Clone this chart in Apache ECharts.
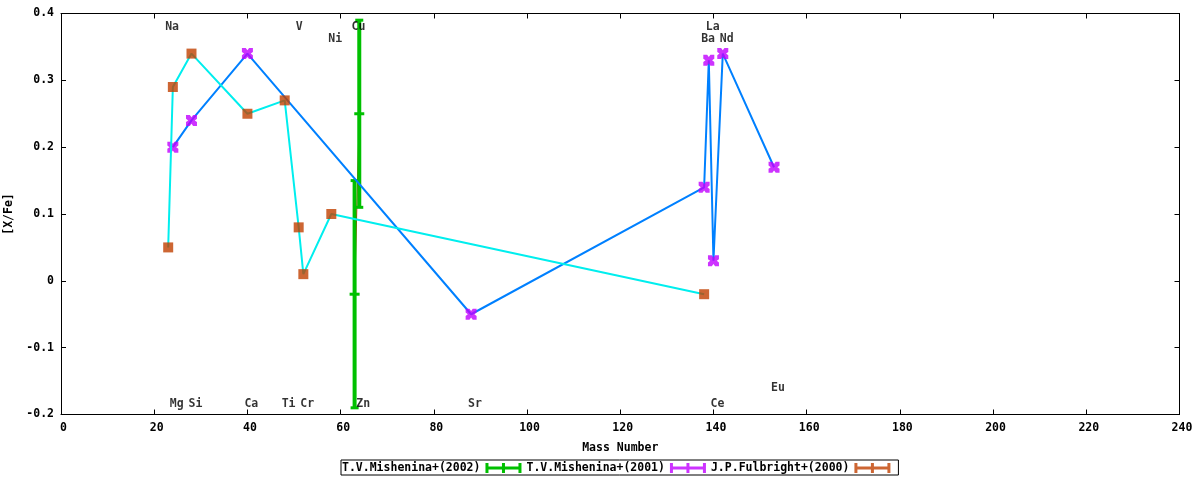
<!DOCTYPE html>
<html>
<head>
<meta charset="utf-8">
<script src="https://cdn.jsdelivr.net/npm/echarts@6/dist/echarts.min.js"></script>
<style>
  html, body { margin: 0; padding: 0; background: #fff; }
  #chart { width: 1200px; height: 480px; }
</style>
</head>
<body>
<div id="chart"></div>
<script>
// T.V.Mishenina+(2002): values with error bars
const m02X = [63, 64];
const m02Y = [-0.02, 0.25];
const m02Err = [0.17, 0.14];

// T.V.Mishenina+(2001)
const m01X = [24, 28, 40, 88, 138, 139, 140, 142, 153];
const m01Y = [0.20, 0.24, 0.34, -0.05, 0.14, 0.33, 0.03, 0.34, 0.17];

// J.P.Fulbright+(2000)
const fulX = [23, 24, 28, 40, 48, 51, 52, 58, 138];
const fulY = [0.05, 0.29, 0.34, 0.25, 0.27, 0.08, 0.01, 0.10, -0.02];

// element labels placed in data coordinates
const elemNames = ['Na', 'V', 'Cu', 'La', 'Ni', 'Ba', 'Nd',
                   'Mg', 'Si', 'Ca', 'Ti', 'Cr', 'Zn', 'Sr', 'Ce', 'Eu'];
const elemX = [23, 51, 63, 139, 58, 138, 142,
               24, 28, 40, 48, 52, 64, 88, 140, 153];
const elemY = [0.38, 0.38, 0.38, 0.38, 0.362, 0.362, 0.362,
               -0.184, -0.184, -0.184, -0.184, -0.184, -0.184, -0.184, -0.184, -0.16];

const FONT = 'DejaVu Sans Mono';
const errIcon = 'path://M0,0H3V3.5H16.5V0H19.5V3.5H33V0H36V10H33V6.5H19.5V10H16.5V6.5H3V10H0Z';
const crossIcon = 'path://M0,0L3.5,0L5,2L6.5,0L10,0L10,3.5L8,5L10,6.5L10,10L6.5,10L5,8L3.5,10L0,10L0,6.5L2,5L0,3.5Z';

const zip = (xs, ys) => xs.map((x, i) => [x, ys[i]]);

const chart = echarts.init(document.getElementById('chart'));

const axisText = { fontFamily: FONT, fontSize: 11.5, fontWeight: 'bold', color: '#000' };
const frameLine = { show: true, onZero: false, lineStyle: { color: '#000', width: 1 } };
const tick = { show: true, inside: true, length: 5, lineStyle: { color: '#000' } };

const option = {
    animation: false,
    backgroundColor: '#fff',
    grid: { left: 61, right: 20.5, top: 13.5, bottom: 65.5, outerBoundsMode: 'none', containLabel: false },
    legend: {
        left: 341,
        top: 460,
        align: 'right',
        itemWidth: 36,
        itemHeight: 10,
        itemGap: 5,
        padding: [2, 8, 1, 1],
        borderColor: '#000',
        borderWidth: 1,
        selectedMode: false,
        textStyle: axisText,
        data: [
            { name: 'T.V.Mishenina+(2002)', icon: errIcon, itemStyle: { color: '#00c000' } },
            { name: 'T.V.Mishenina+(2001)', icon: errIcon, itemStyle: { color: '#c000ff' } },
            { name: 'J.P.Fulbright+(2000)', icon: errIcon, itemStyle: { color: '#c04000' } }
        ]
    },
    xAxis: [{
        type: 'value', min: 0, max: 240, interval: 20, position: 'bottom',
        name: 'Mass Number', nameLocation: 'middle', nameGap: 28,
        nameTextStyle: axisText,
        axisLine: frameLine, axisTick: tick,
        axisLabel: Object.assign({ margin: 8, padding: [0, 0, 0, 5] }, axisText),
        splitLine: { show: false }
    }, {
        type: 'value', min: 0, max: 240, interval: 20, position: 'top',
        axisLine: frameLine, axisTick: tick,
        axisLabel: { show: false }, splitLine: { show: false }
    }],
    yAxis: [{
        type: 'value', min: -0.2, max: 0.4, interval: 0.1, position: 'left',
        name: '[X/Fe]', nameLocation: 'middle', nameGap: 36,
        nameTextStyle: axisText,
        axisLine: frameLine, axisTick: tick,
        axisLabel: Object.assign({ margin: 7, formatter: v => String(+v.toFixed(1)) }, axisText),
        splitLine: { show: false }
    }, {
        type: 'value', min: -0.2, max: 0.4, interval: 0.1, position: 'right',
        axisLine: frameLine, axisTick: tick,
        axisLabel: { show: false }, splitLine: { show: false }
    }],
    series: [
        {
            name: 'm02line', type: 'line', data: zip(m02X, m02Y),
            symbol: 'none', lineStyle: { color: '#ff0000', width: 1 }, z: 1
        },
        {
            name: 'T.V.Mishenina+(2002)', type: 'custom', z: 2,
            itemStyle: { color: '#00c000' },
            data: m02X.map((x, i) => [x, m02Y[i], m02Err[i]]),
            renderItem: function (params, api) {
                const x = api.value(0), y = api.value(1), e = api.value(2);
                const hi = api.coord([x, y + e]);
                const lo = api.coord([x, y - e]);
                const mid = api.coord([x, y]);
                const st = { stroke: '#00c000', lineWidth: 4 };
                const cap = { stroke: '#00c000', lineWidth: 3 };
                return {
                    type: 'group',
                    children: [
                        { type: 'line', shape: { x1: hi[0], y1: hi[1], x2: lo[0], y2: lo[1] }, style: st },
                        { type: 'line', shape: { x1: hi[0] - 4, y1: hi[1], x2: hi[0] + 4, y2: hi[1] }, style: cap },
                        { type: 'line', shape: { x1: lo[0] - 4, y1: lo[1], x2: lo[0] + 4, y2: lo[1] }, style: cap },
                        { type: 'line', shape: { x1: mid[0] - 5, y1: mid[1], x2: mid[0] + 5, y2: mid[1] }, style: cap }
                    ]
                };
            }
        },
        {
            name: 'm01line', type: 'line', data: zip(m01X, m01Y),
            symbol: 'none', lineStyle: { color: '#0080ff', width: 2 }, z: 3
        },
        {
            name: 'T.V.Mishenina+(2001)', type: 'scatter', data: zip(m01X, m01Y),
            symbol: crossIcon, symbolSize: 11, itemStyle: { color: '#c000ff' }, z: 4
        },
        {
            name: 'fulline', type: 'line', data: zip(fulX, fulY),
            symbol: 'none', lineStyle: { color: '#00eeee', width: 2 }, z: 5
        },
        {
            name: 'J.P.Fulbright+(2000)', type: 'scatter', data: zip(fulX, fulY),
            symbol: 'rect', symbolSize: 10, itemStyle: { color: '#c04000' }, z: 6
        },
        {
            name: 'elements', type: 'scatter', silent: true, z: 7,
            symbol: 'circle', symbolSize: 0,
            data: elemNames.map((n, i) => ({ name: n, value: [elemX[i], elemY[i]] })),
            label: Object.assign({
                show: true, position: [-3, 0], align: 'left', verticalAlign: 'middle',
                formatter: p => p.name
            }, axisText)
        }
    ]
};

chart.setOption(option);
</script>
</body>
</html>
